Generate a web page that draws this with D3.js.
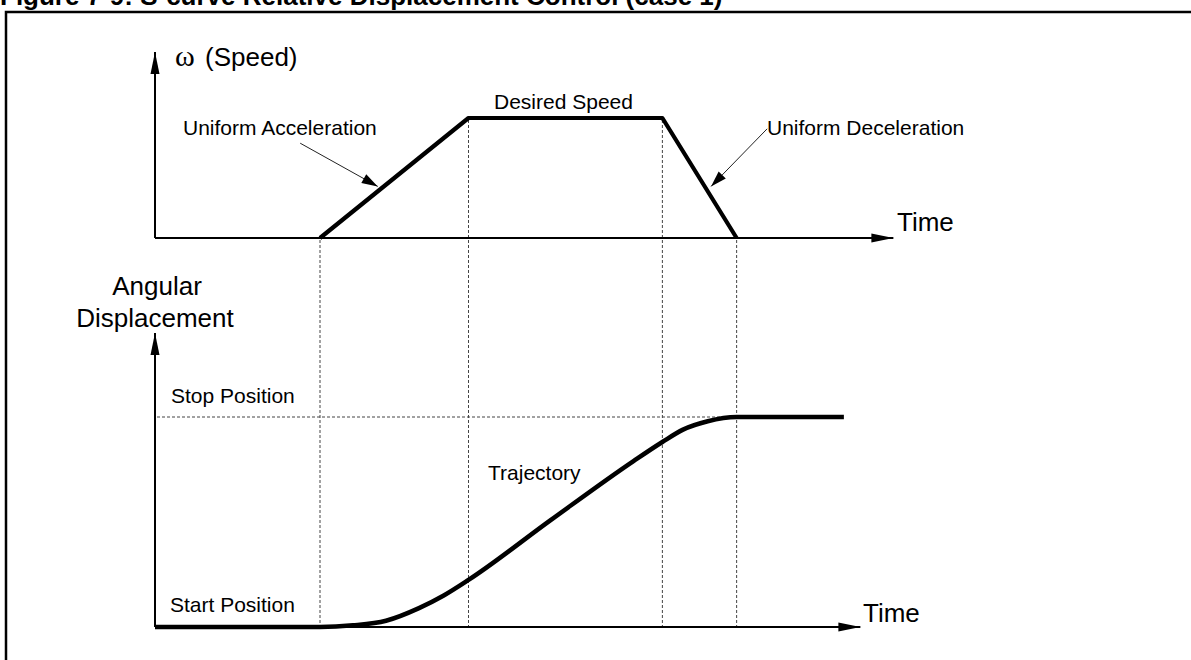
<!DOCTYPE html>
<html>
<head>
<meta charset="utf-8">
<script src="https://cdn.jsdelivr.net/npm/d3@7"></script>
<style>
	body { margin: 0; background: #fff; }
	svg { display: block; font-family: 'Liberation Sans', Arial, sans-serif; }
</style>
</head>
<body>
<div data-chart></div>
<script>
const dimensions = {
	width: 1191,
	height: 660,
	originX: 155,
	unit: 82.5,
	speedBase: 238,
	speedTop: 118,
	dispBase: 627,
	dispTop: 417
}

/* Speed profile (time in arbitrary units, speed as fraction of desired) */
const speedTimes = [2.0, 3.8, 6.15, 7.05]
const speedValues = [0, 1, 1, 0]

/* Angular displacement (fraction of stop position) */
const trajTimes = [0, 2.0, 2.4, 2.8, 3.2, 3.5, 3.8, 4.8, 5.8, 6.15, 6.4, 6.7, 7.05, 8.35]
const trajValues = [0, 0, 0.008, 0.03, 0.09, 0.15, 0.224, 0.51, 0.79, 0.881, 0.94, 0.98, 1, 1]

const speedAxisEnd = 8.95
const dispAxisEnd = 8.55

const title = 'Figure 7-9: S-curve Relative Displacement Control (case 1)'

const annotations = [
	{ text: 'Uniform Acceleration', from: [1.76, 0.79], to: [2.7, 0.43] },
	{ text: 'Uniform Deceleration', from: [7.42, 0.91], to: [6.74, 0.43] }
]

const draw = () => {
	const svg = d3.select('[data-chart]')
		.append('svg')
		.attr('width', dimensions.width)
		.attr('height', dimensions.height)
		.attr('viewBox', `0 0 ${dimensions.width} ${dimensions.height}`)

	svg.append('rect')
		.attr('width', dimensions.width)
		.attr('height', dimensions.height)
		.attr('fill', '#fff')

	const xScale = d3.scaleLinear()
		.domain([0, 10])
		.range([dimensions.originX, dimensions.originX + dimensions.unit * 10])

	const ySpeed = d3.scaleLinear()
		.domain([0, 1])
		.range([dimensions.speedBase, dimensions.speedTop])

	const yDisp = d3.scaleLinear()
		.domain([0, 1])
		.range([dimensions.dispBase, dimensions.dispTop])

	const arrowHead = (g, tip, from, len, half) => {
		const dx = tip[0] - from[0]
		const dy = tip[1] - from[1]
		const d = Math.hypot(dx, dy)
		const ux = dx / d
		const uy = dy / d
		const bx = tip[0] - ux * len
		const by = tip[1] - uy * len
		g.append('path')
			.attr('d', `M${tip[0]},${tip[1]}L${bx - uy * half},${by + ux * half}L${bx + uy * half},${by - ux * half}Z`)
			.attr('fill', '#000')
	}

	/* Frame and title */
	svg.append('rect')
		.attr('x', 6)
		.attr('y', 12)
		.attr('width', 1200)
		.attr('height', 700)
		.attr('fill', 'none')
		.attr('stroke', '#000')
		.attr('stroke-width', 2.5)

	svg.append('text')
		.attr('x', 0)
		.attr('y', 5)
		.attr('font-size', 26)
		.attr('font-weight', 'bold')
		.text(title)

	/* Guides */
	const guides = svg.append('g')
		.attr('stroke', '#444')
		.attr('stroke-width', 1)
		.attr('stroke-dasharray', '3,2')

	guides.selectAll('line.v')
		.data(speedTimes)
		.join('line')
		.attr('class', 'v')
		.attr('x1', (d) => xScale(d))
		.attr('x2', (d) => xScale(d))
		.attr('y1', (d, i) => ySpeed(speedValues[i]) + 2)
		.attr('y2', yDisp(0))

	guides.append('line')
		.attr('x1', xScale(0) + 2)
		.attr('x2', xScale(speedTimes[speedTimes.length - 1]))
		.attr('y1', yDisp(1))
		.attr('y2', yDisp(1))

	/* Axes */
	const axes = svg.append('g')
	const axisLines = [
		{ a: [xScale(0), ySpeed(0)], b: [xScale(0), 52] },
		{ a: [xScale(0), ySpeed(0)], b: [xScale(speedAxisEnd), ySpeed(0)] },
		{ a: [xScale(0), yDisp(0)], b: [xScale(0), 333] },
		{ a: [xScale(0), yDisp(0)], b: [xScale(dispAxisEnd), yDisp(0)] }
	]
	axisLines.forEach(({ a, b }) => {
		axes.append('line')
			.attr('x1', a[0])
			.attr('y1', a[1])
			.attr('x2', b[0])
			.attr('y2', b[1])
			.attr('stroke', '#000')
			.attr('stroke-width', 2)
		arrowHead(axes, b, a, 22, 4.5)
	})

	/* Speed line */
	const speedLine = d3.line()
		.x((d, i) => xScale(speedTimes[i]))
		.y((d) => ySpeed(d))

	svg.append('path')
		.datum(speedValues)
		.attr('d', speedLine)
		.attr('fill', 'none')
		.attr('stroke', '#000')
		.attr('stroke-width', 4.2)
		.attr('stroke-linejoin', 'round')

	/* Trajectory */
	const trajLine = d3.line()
		.x((d, i) => xScale(trajTimes[i]))
		.y((d) => yDisp(d))
		.curve(d3.curveMonotoneX)

	svg.append('path')
		.datum(trajValues)
		.attr('d', trajLine)
		.attr('fill', 'none')
		.attr('stroke', '#000')
		.attr('stroke-width', 4.5)
		.attr('stroke-linejoin', 'round')

	/* Annotation arrows */
	const notes = svg.append('g')
	annotations.forEach(({ from, to }) => {
		const a = [xScale(from[0]), ySpeed(from[1])]
		const b = [xScale(to[0]), ySpeed(to[1])]
		notes.append('line')
			.attr('x1', a[0])
			.attr('y1', a[1])
			.attr('x2', b[0])
			.attr('y2', b[1])
			.attr('stroke', '#222')
			.attr('stroke-width', 1)
		arrowHead(notes, b, a, 16, 5)
	})

	/* Labels */
	const labels = svg.append('g').attr('fill', '#000')
	const speedLabel = labels.append('text')
		.attr('x', 175)
		.attr('y', 66)
		.attr('font-size', 26)
	speedLabel.append('tspan')
		.attr('font-family', "'Liberation Serif', 'Times New Roman', serif")
		.attr('font-size', 30)
		.text('ω')
	speedLabel.append('tspan')
		.attr('x', 205)
		.text('(Speed)')

	const small = [
		{ text: 'Uniform Acceleration', x: 183, y: 135 },
		{ text: 'Desired Speed', x: 494, y: 109 },
		{ text: 'Uniform Deceleration', x: 767, y: 135 },
		{ text: 'Stop Position', x: 171, y: 403 },
		{ text: 'Start Position', x: 170, y: 612 },
		{ text: 'Trajectory', x: 488, y: 480 }
	]
	labels.selectAll('text.small')
		.data(small)
		.join('text')
		.attr('class', 'small')
		.attr('x', (d) => d.x)
		.attr('y', (d) => d.y)
		.attr('font-size', 21)
		.text((d) => d.text)

	const big = [
		{ text: 'Time', x: 897, y: 231, anchor: 'start' },
		{ text: 'Time', x: 863, y: 622, anchor: 'start' },
		{ text: 'Angular', x: 157, y: 295, anchor: 'middle' },
		{ text: 'Displacement', x: 155, y: 327, anchor: 'middle' }
	]
	labels.selectAll('text.big')
		.data(big)
		.join('text')
		.attr('class', 'big')
		.attr('x', (d) => d.x)
		.attr('y', (d) => d.y)
		.attr('text-anchor', (d) => d.anchor)
		.attr('font-size', 26)
		.text((d) => d.text)
}

draw()
</script>
</body>
</html>
